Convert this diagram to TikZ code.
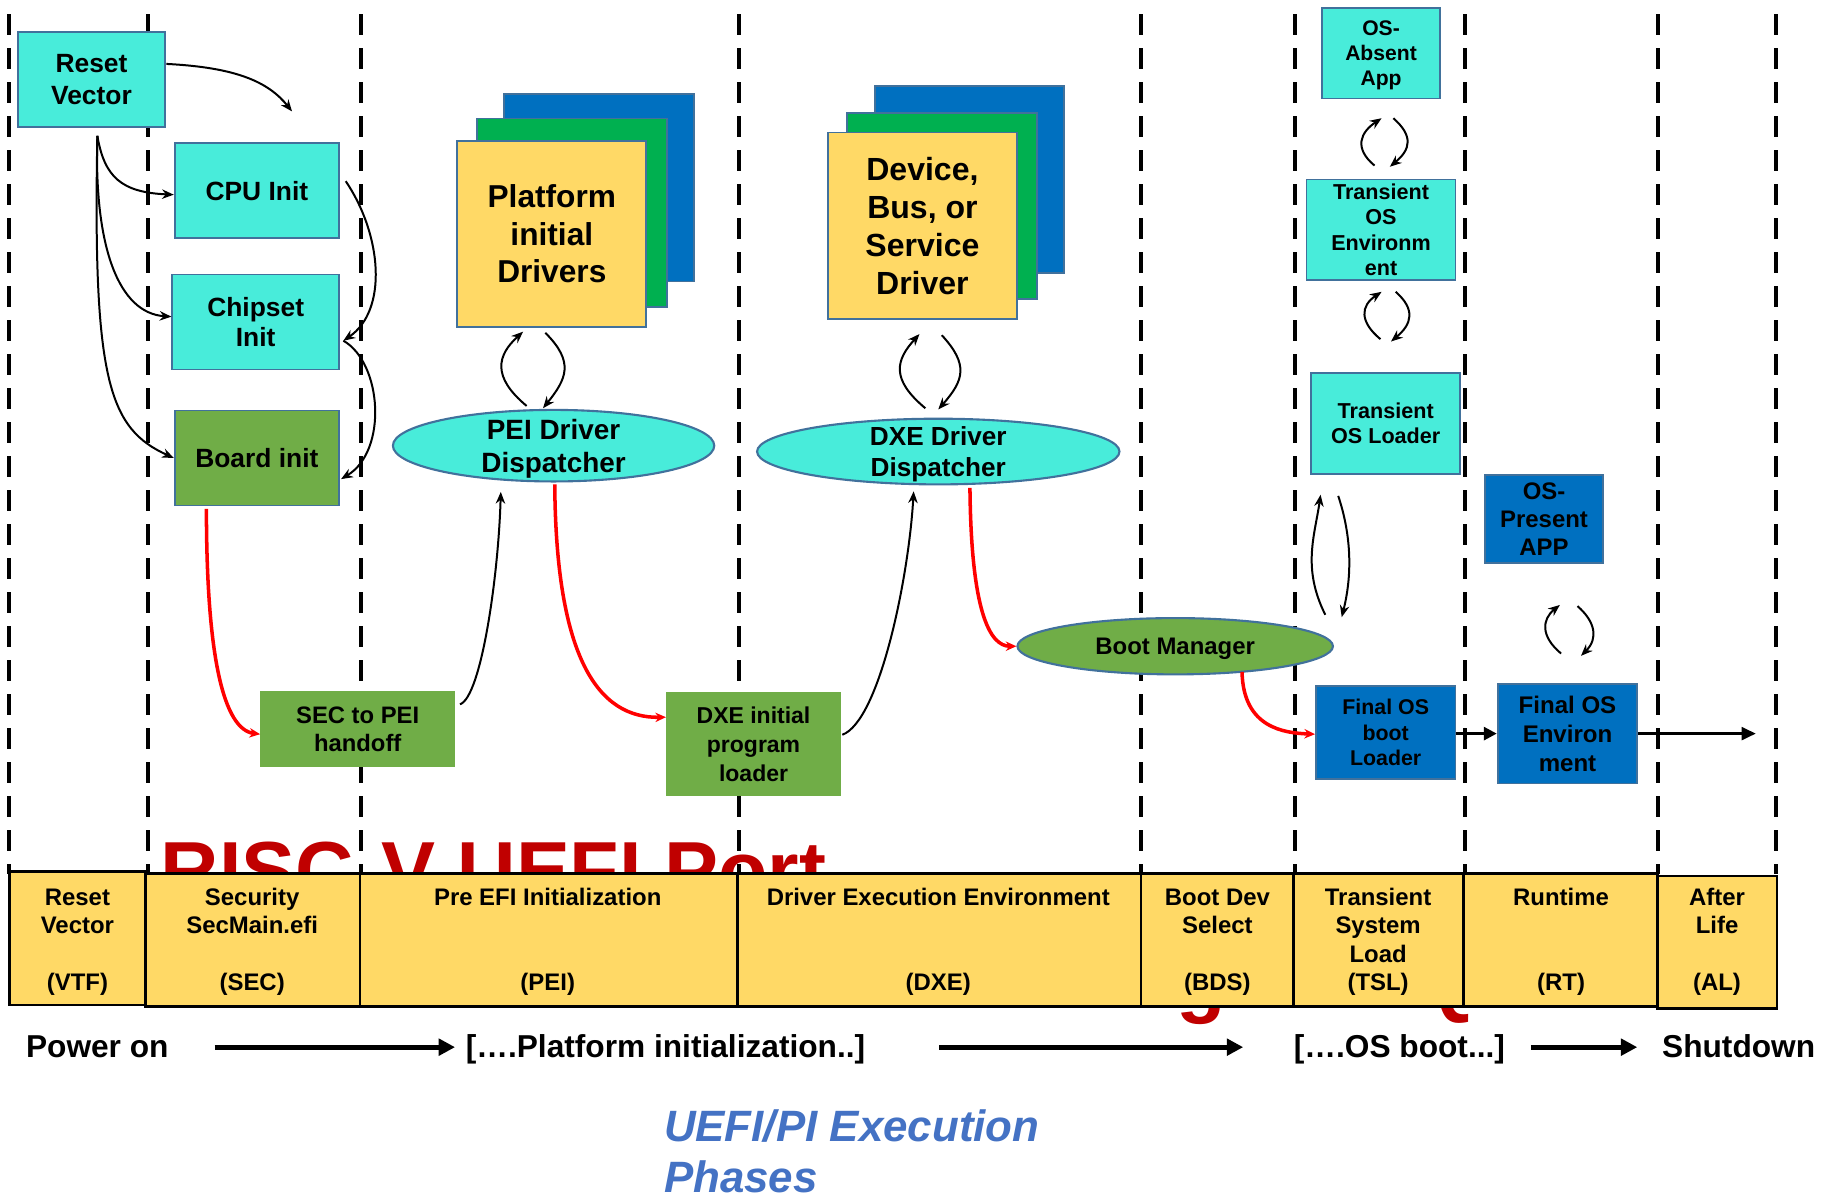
\documentclass[tikz,border=0pt]{standalone}
\usepackage{fontspec}
\setmainfont{Liberation Sans}
\usetikzlibrary{arrows.meta,shapes.geometric,calc}

\definecolor{aquabox}{HTML}{48ECDA}
\definecolor{edgeblue}{HTML}{41719C}
\definecolor{leafgreen}{HTML}{70AD47}
\definecolor{cardyellow}{HTML}{FFD966}
\definecolor{cardgreen}{HTML}{00B050}
\definecolor{cardblue}{HTML}{0070C0}
\definecolor{titlered}{HTML}{C00000}
\definecolor{captionblue}{HTML}{4472C4}
\definecolor{flowred}{HTML}{FF0000}

\newcommand\myfs[2]{\fontsize{#1}{#2}\selectfont\bfseries}

\begin{document}
\begin{tikzpicture}[x=1pt,y=-1pt,
  box/.style={draw=edgeblue,line width=1.6pt,inner sep=0pt,align=center,text=black,text depth=0pt},
  aqua/.style={box,fill=aquabox},
  bluebox/.style={box,fill=cardblue},
  greenbox/.style={box,fill=leafgreen},
  plaingreen/.style={fill=leafgreen,inner sep=0pt,align=center,text depth=0pt},
  oval/.style={draw=edgeblue,line width=1.8pt,ellipse,inner sep=0pt},
  ovaltext/.style={inner sep=0pt,align=center,text depth=0pt},
  phase/.style={line width=3.4pt,dash pattern=on 18pt off 11pt},
  cellbox/.style={fill=cardyellow,draw=black,line width=2.2pt},
  celltext/.style={anchor=south,inner sep=0pt,align=center,text depth=0pt,font=\myfs{20.4}{24.3}},
  flow/.style={line width=1.7pt,-{Stealth[length=10pt,width=8pt]}},
  redflow/.style={draw=flowred,line width=3pt,-{Stealth[length=9pt,width=8pt]}},
  heavy/.style={line width=4.5pt,-{Triangle[length=14pt,width=14pt]}},
  rowtext/.style={anchor=base west,inner sep=0pt,font=\myfs{27}{32}}
]
\useasboundingbox (0,0) rectangle (1568,1022);
\fill[white] (0,0) rectangle (1568,1022);

% title lettering lying behind the phase table
\node[anchor=base west,inner sep=0pt,text=titlered,font=\myfs{69}{90}] (title1) at (137,766) {RISC-V UEFI Port};
\node[anchor=base west,inner sep=0pt,text=titlered,font=\myfs{69}{90}] (title2) at (171,859) {EDK2 UEFI RISC-V Package on QEMU};

% phase separators
\foreach \x in {8,126,308,630,973,1104,1249,1414,1514}
  \draw[phase] (\x,12) -- (\x,745);

% phase table
\draw[cellbox] (8,743) rectangle (124,857);
\draw[cellbox] (124,745) rectangle (307,858);
\draw[cellbox] (307,745) rectangle (629,858);
\draw[cellbox] (629,745) rectangle (973,858);
\draw[cellbox] (973,745) rectangle (1103,858);
\draw[cellbox] (1103,745) rectangle (1248,858);
\draw[cellbox] (1248,745) rectangle (1413,858);
\draw[cellbox] (1413,747) rectangle (1515,860);

\node[celltext] (vtf) at (66,845) {Reset\\Vector\\\mbox{}\\(VTF)};
\node[celltext] (secp) at (215,845) {Security\\SecMain.efi\\\mbox{}\\(SEC)};
\node[celltext] (peip) at (467,845) {Pre EFI Initialization\\\mbox{}\\\mbox{}\\(PEI)};
\node[celltext] (dxep) at (800,845) {Driver Execution Environment\\\mbox{}\\\mbox{}\\(DXE)};
\node[celltext] (bdsp) at (1038,845) {Boot Dev\\Select\\\mbox{}\\(BDS)};
\node[celltext] (tslp) at (1175,845) {Transient\\System\\Load\\(TSL)};
\node[celltext] (rtp) at (1331,845) {Runtime\\\mbox{}\\\mbox{}\\(RT)};
\node[celltext] (alp) at (1464,845) {After\\Life\\\mbox{}\\(AL)};

% timeline row
\node[rowtext] (pwr) at (22,902) {Power on};
\node[rowtext] (platinit) at (397,902) {[….Platform initialization..]};
\node[rowtext] (osboot) at (1103,902) {[….OS boot...]};
\node[rowtext] (shut) at (1417,902) {Shutdown};
\draw[heavy] ($(pwr.east)+(39,0)$) -- ($(platinit.west|-pwr.east)+(-9,0)$);
\draw[heavy] ($(platinit.east|-pwr.east)+(63,0)$) -- ($(osboot.west|-pwr.east)+(-43,0)$);
\draw[heavy] ($(osboot.east|-pwr.east)+(22,0)$) -- ($(shut.west|-pwr.east)+(-21,0)$);

% caption
\node[anchor=base west,inner sep=0pt,text=captionblue,font=\fontsize{37.4}{44}\selectfont\bfseries\itshape] (cap1) at (566,973) {UEFI/PI Execution};
\node[anchor=base west,inner sep=0pt,text=captionblue,font=\fontsize{37.4}{44}\selectfont\bfseries\itshape] (cap2) at (566,1017) {Phases};

% SEC phase blocks
\node[aqua,minimum width=126pt,minimum height=81pt,font=\myfs{22.5}{27}] (rv) at (78,67.5) {Reset\\Vector};
\node[aqua,minimum width=140pt,minimum height=81pt,font=\myfs{22.5}{27}] (cpu) at (219,162.5) {CPU Init};
\node[aqua,minimum width=142pt,minimum height=81pt,font=\myfs{22.5}{26}] (chip) at (218,274.5) {Chipset\\Init};
\node[greenbox,minimum width=140pt,minimum height=81pt,font=\myfs{22.5}{27}] (board) at (219,390.5) {Board init};
\node[plaingreen,minimum width=166pt,minimum height=65pt,font=\myfs{20.3}{24}] (sec) at (305,621.5) {SEC to PEI\\handoff};

% PEI driver stack
\node[box,fill=cardblue,minimum width=162pt,minimum height=160pt] (platc) at (511,160) {};
\node[box,fill=cardgreen,minimum width=162pt,minimum height=161pt] (platb) at (488,181.5) {};
\node[box,fill=cardyellow,minimum width=161pt,minimum height=159pt,font=\myfs{27}{32}] (plat) at (470.5,199.5) {Platform\\initial\\Drivers};
\node[oval,fill=aquabox,minimum width=274pt,minimum height=61pt] (pei) at (472,380) {};
\node[ovaltext,font=\myfs{23.8}{28}] (peitext) at (pei.center) {PEI Driver\\Dispatcher};
\node[plaingreen,minimum width=149pt,minimum height=89pt,font=\myfs{19.6}{24.5}] (ipl) at (642.5,634.5) {DXE initial\\program\\loader};

% DXE driver stack
\node[box,fill=cardblue,minimum width=161pt,minimum height=160pt] (devc) at (826.5,153) {};
\node[box,fill=cardgreen,minimum width=162pt,minimum height=159pt] (devb) at (803,175.5) {};
\node[box,fill=cardyellow,minimum width=161pt,minimum height=159pt,font=\myfs{27.3}{32.5}] (dev) at (786.5,192.5) {Device,\\Bus, or\\Service\\Driver};
\node[oval,fill=aquabox,minimum width=309pt,minimum height=56pt] (dxe) at (800,385) {};
\node[ovaltext,font=\myfs{22.3}{27}] (dxetext) at (dxe.center) {DXE Driver\\Dispatcher};
\node[oval,fill=leafgreen,minimum width=269pt,minimum height=48pt] (bm) at (1002,551) {};
\node[ovaltext,font=\myfs{20.4}{24}] (bmtext) at (bm.center) {Boot Manager};

% TSL and RT blocks
\node[aqua,minimum width=101pt,minimum height=77pt,font=\myfs{18}{21.5}] (osabs) at (1177.5,45.5) {OS-\\Absent\\App};
\node[aqua,minimum width=127pt,minimum height=86pt,font=\myfs{18.4}{21.7}] (tose) at (1177.5,196) {Transient\\OS\\Environm\\ent};
\node[aqua,minimum width=127pt,minimum height=86pt,font=\myfs{18.4}{21.5}] (tosl) at (1181.5,361) {Transient\\OS Loader};
\node[bluebox,minimum width=101pt,minimum height=75pt,font=\myfs{20.4}{24}] (ospres) at (1316.5,442.5) {OS-\\Present\\APP};
\node[bluebox,minimum width=119pt,minimum height=79pt,font=\myfs{18.2}{22}] (fobl) at (1181.5,624.5) {Final OS\\boot\\Loader};
\node[bluebox,minimum width=119pt,minimum height=85pt,font=\myfs{20.5}{24.5}] (fose) at (1336.5,625.5) {Final OS\\Environ\\ment};

\coordinate (rvtip) at (249,95);
\coordinate (aftertip) at (1497,625.5);

% reset vector fan-out
\draw[flow] ([yshift=13pt]rv.east) .. controls +(60,3) and +(-20,-25) .. (rvtip);
\draw[flow] ([xshift=5pt,yshift=-7pt]rv.south) .. controls +(6,35) and +(-45,-2) .. ([yshift=-3.5pt]cpu.west);
\draw[flow] ([xshift=5pt,yshift=-7pt]rv.south) .. controls +(-3,95) and +(-45,-3) .. ([yshift=4.5pt]chip.west);
\draw[flow] ([xshift=5pt,yshift=-7pt]rv.south) .. controls +(-4,210) and +(-55,-25) .. (board.west);
\draw[flow] ([xshift=5pt,yshift=8pt]cpu.east) .. controls +(31,46) and +(38,-26) .. ([xshift=3pt,yshift=-16pt]chip.east);
\draw[flow] ([xshift=3pt,yshift=-16pt]chip.east) .. controls +(33,19) and +(40,-24) .. ([xshift=1pt,yshift=-18pt]board.east);

% main boot flow
\draw[redflow] ([xshift=-43pt,yshift=-2pt]board.south) .. controls +(0,127) and +(-31,-4) .. ([yshift=-4.5pt]sec.west);
\draw[redflow] ([xshift=1pt,yshift=-1.5pt]pei.south) .. controls +(1,148) and +(-58,1) .. ([yshift=23pt]ipl.west);
\draw[redflow] ([xshift=27pt,yshift=-2pt]dxe.south) .. controls +(1,105) and +(-23,0) .. (bm.west);
\draw[redflow] ([xshift=57pt,yshift=3pt]bm.south) .. controls +(1,48) and +(-26,-1) .. ([yshift=-1.5pt]fobl.west);

% hand-offs into the dispatchers
\draw[flow] ([xshift=4pt,yshift=21pt]sec.east) .. controls +(18,-6) and +(-2,72) .. ([xshift=-45pt,yshift=-8pt]pei.south);
\draw[flow] ([xshift=1pt,yshift=8pt]ipl.east) .. controls +(32,-12) and +(-4,72) .. ([xshift=-21pt,yshift=-5pt]dxe.south);

% dispatcher <-> driver loops
\draw[flow] ([xshift=-23pt,yshift=2.5pt]pei.north) .. controls +(-30,-25) and +(-22,20) .. ([xshift=-24.5pt,yshift=-3pt]plat.south);
\draw[flow] ([xshift=-5.5pt,yshift=-4pt]plat.south) .. controls +(25,25) and +(20,-25) .. ([xshift=-9pt,yshift=0.5pt]pei.north);
\draw[flow] ([xshift=-11pt,yshift=8pt]dxe.north) .. controls +(-30,-25) and +(-20,22) .. ([xshift=-2.5pt,yshift=-12pt]dev.south);
\draw[flow] ([xshift=16.5pt,yshift=-13pt]dev.south) .. controls +(23,25) and +(22,-25) .. ([yshift=7pt]dxe.north);

% transient system load loops
\draw[flow] ([xshift=-5.5pt,yshift=11pt]tose.north) .. controls +(-18,-15) and +(-18,12) .. ([xshift=0.5pt,yshift=-16pt]osabs.south);
\draw[flow] ([xshift=10.5pt,yshift=-16pt]osabs.south) .. controls +(17,15) and +(18,-15) .. ([xshift=7.5pt,yshift=10pt]tose.north);
\draw[flow] ([xshift=-4.5pt,yshift=28pt]tosl.north) .. controls +(-18,-15) and +(-18,12) .. ([xshift=0.5pt,yshift=-9pt]tose.south);
\draw[flow] ([xshift=12.5pt,yshift=-9pt]tose.south) .. controls +(17,15) and +(18,-15) .. ([xshift=4.5pt,yshift=26pt]tosl.north);
\draw[flow] ([xshift=-51.5pt,yshift=60pt]fobl.north) .. controls +(-20,-40) and +(-5,35) .. ([xshift=-55.5pt,yshift=-17pt]tosl.south);
\draw[flow] ([xshift=-40.5pt,yshift=-18pt]tosl.south) .. controls +(10,30) and +(10,-40) .. ([xshift=-37.5pt,yshift=58pt]fobl.north);

% runtime loop
\draw[flow] ([xshift=-5.5pt,yshift=25pt]fose.north) .. controls +(-18,-15) and +(-15,12) .. ([xshift=13.5pt,yshift=-35pt]ospres.south);
\draw[flow] ([xshift=28.5pt,yshift=-36pt]ospres.south) .. controls +(15,13) and +(15,-15) .. ([xshift=11.5pt,yshift=23pt]fose.north);

% final OS hand-off
\draw[line width=2.5pt,-{Triangle[length=11pt,width=11pt]}] ([yshift=-1pt]fobl.east) -- (fose.west);
\draw[line width=2pt,-{Triangle[length=12pt,width=11pt]}] (fose.east) -- (aftertip);
\end{tikzpicture}
\end{document}
